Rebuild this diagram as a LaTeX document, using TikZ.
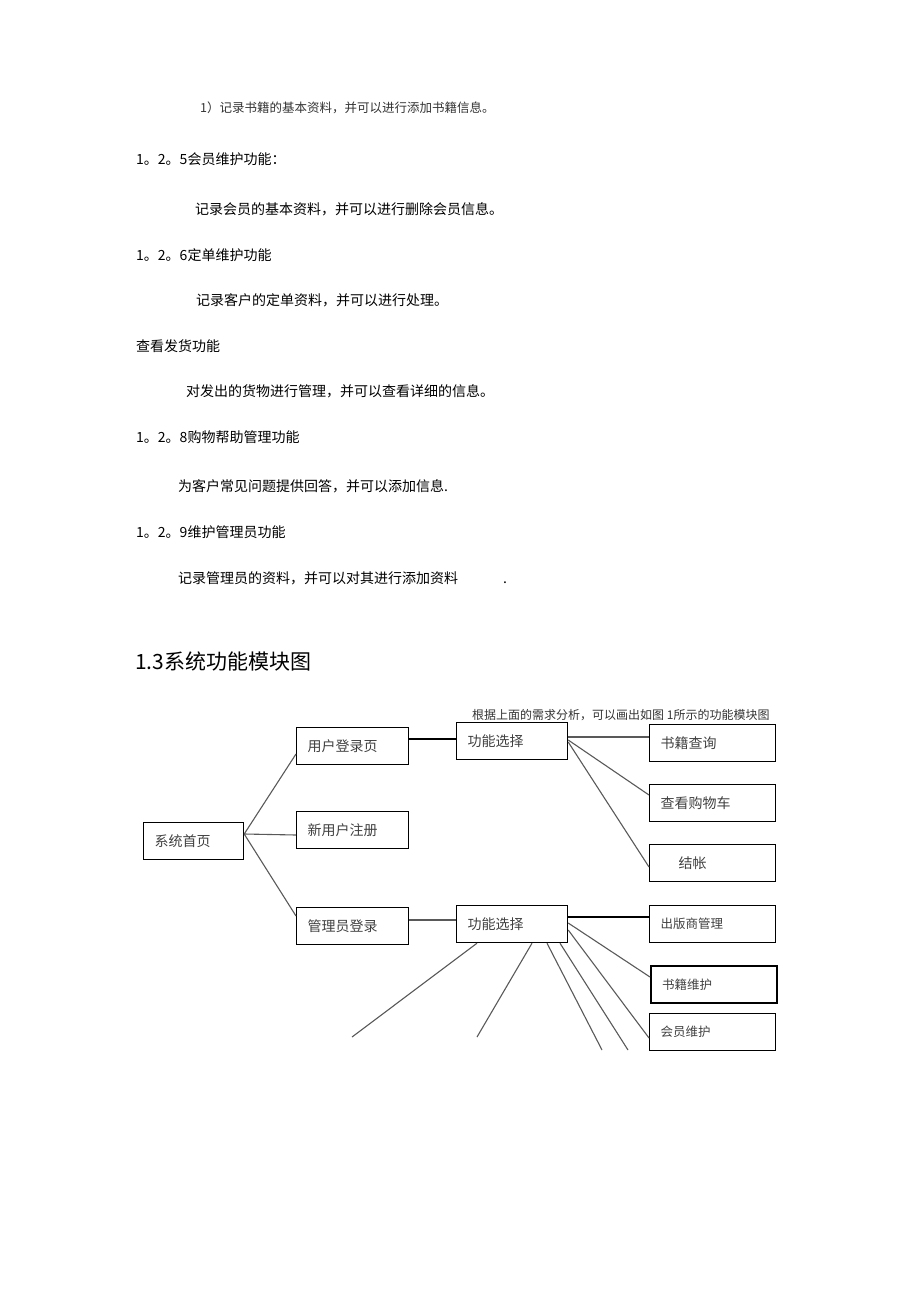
\documentclass[tikz,border=0pt]{standalone}
\usepackage{fontspec}
\newfontfamily\cjk{Noto Sans CJK SC}
\usetikzlibrary{positioning,calc}
\tikzset{%
  every para/.style={
    anchor=west,
    inner sep=0pt,
    font=\cjk\fontsize{14}{14}\selectfont
  },
  every box/.style={
    draw,
    line width=1.2pt,
    anchor=north west,
    minimum height=37pt,
    inner xsep=11pt,
    inner ysep=0pt,
    align=left,
    text=black!75,
    font=\cjk\fontsize{14}{14}\selectfont
  },
  small box/.style={
    font=\cjk\fontsize{12.5}{12.5}\selectfont
  },
  thin link/.style={black!65, line width=1.1pt},
  thick link/.style={black, line width=1.9pt},
}

\begin{document}
\begin{tikzpicture}[x=1pt, y=-1pt]
        \useasboundingbox (0,0) rectangle (920,1303);

        % text above the chart
        \node [every para, font=\cjk\fontsize{12.5}{12.5}\selectfont, text=black!80] (item-1) at (200,108) {1）记录书籍的基本资料，并可以进行添加书籍信息。};
        \foreach \t/\x/\y [count=\i] in {
            1。2。5会员维护功能：/136/159,
            记录会员的基本资料，并可以进行删除会员信息。/195/209,
            1。2。6定单维护功能/136/255,
            记录客户的定单资料，并可以进行处理。/196/300,
            查看发货功能/136/346,
            对发出的货物进行管理，并可以查看详细的信息。/186/391,
            1。2。8购物帮助管理功能/136/437,
            为客户常见问题提供回答，并可以添加信息./178/486,
            1。2。9维护管理员功能/136/532,
            记录管理员的资料，并可以对其进行添加资料\hspace{45pt}./178/578}
          \node [every para] (line-\i) at (\x,\y) {\t};

        \node [every para, font=\cjk\fontsize{21}{21}\selectfont] (title) at (135,661) {1.3系统功能模块图};
        \node [every para, font=\cjk\fontsize{12}{12}\selectfont, text=black!80] (caption) at (472,715) {根据上面的需求分析，可以画出如图 1所示的功能模块图};

        % boxes
        \node [every box, text width=78pt] (home) at (143,822) {系统首页};
        \foreach \n/\t/\y in {ulogin/用户登录页/727, reg/新用户注册/811, alogin/管理员登录/907}
          \node [every box, text width=90pt] (\n) at (296,\y) {\t};
        \foreach \n/\y in {ufunc/722, afunc/905}
          \node [every box, text width=89pt] (\n) at (456,\y) {功能选择};
        \foreach \n/\t/\y in {query/书籍查询/724, cart/查看购物车/784, pay/\hspace{18pt}结帐/844}
          \node [every box, text width=104pt] (\n) at (649,\y) {\t};
        \foreach \n/\t/\y in {pub/出版商管理/905, memm/会员维护/1013}
          \node [every box, small box, text width=104pt] (\n) at (649,\y) {\t};
        \node [every box, small box, line width=2pt, text width=104pt] (bookm) at (650,965) {书籍维护};

        % connectors
        \coordinate (hub) at ($(home.north east)+(0,12)$);
        \draw [thin link] (hub) -- ($(ulogin.north west)+(0,27)$);
        \draw [thin link] (hub) -- ($(reg.north west)+(0,24)$);
        \draw [thin link] (hub) -- ($(alogin.north west)+(0,9)$);

        \draw [thick link] ($(ulogin.north east)+(0,12)$) -- ($(ufunc.north west)+(0,17)$);
        \draw [thin link] ($(ufunc.north east)+(0,15)$) -- ($(query.north west)+(0,13)$);
        \draw [thin link] ($(ufunc.north east)+(0,18)$) -- ($(cart.north west)+(0,11)$);
        \draw [thin link] ($(ufunc.north east)+(0,20)$) -- ($(pay.north west)+(0,23)$);

        \draw [thin link] ($(alogin.north east)+(0,13)$) -- ($(afunc.north west)+(0,15)$);
        \draw [thick link] ($(afunc.north east)+(0,12)$) -- ($(pub.north west)+(0,12)$);
        \draw [thin link] ($(afunc.north east)+(0,18)$) -- ($(bookm.north west)+(0,12)$);
        \draw [thin link] ($(afunc.north east)+(0,25)$) -- ($(memm.north west)+(0,25)$);

        % lines running off the page
        \foreach \c/\x/\y in {1/352/1037, 2/477/1037, 3/602/1050, 4/628/1050}
          \coordinate (cut-\c) at (\x,\y);
        \foreach \dx/\c in {21/1, 76/2, 91/3, 104/4}
          \draw [thin link] ($(afunc.south west)+(\dx,0)$) -- (cut-\c);
\end{tikzpicture}
\end{document}
